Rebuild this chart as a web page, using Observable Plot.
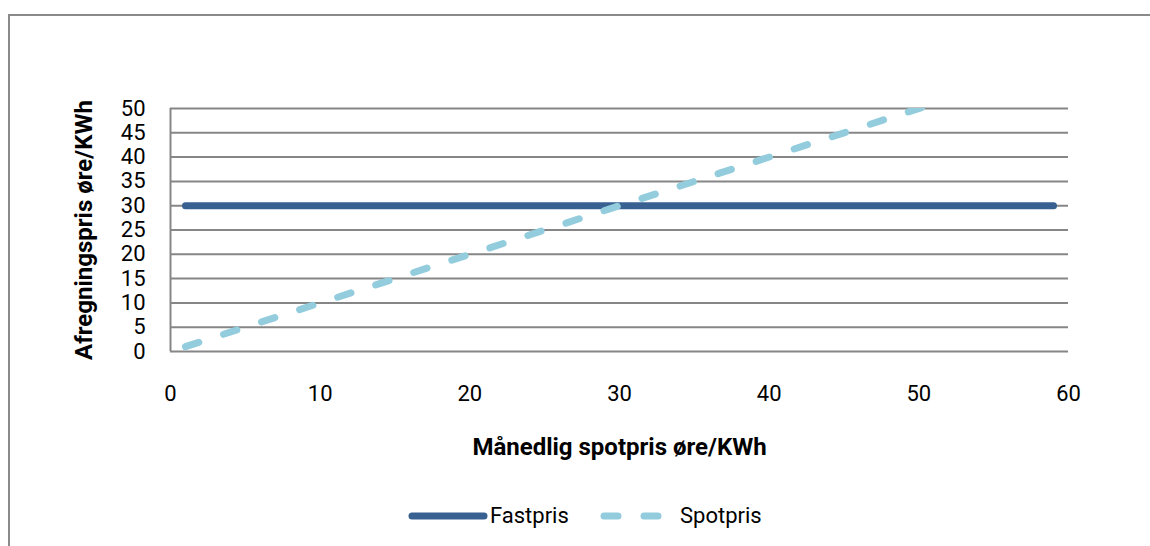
<!DOCTYPE html>
<html>
<head>
<meta charset="utf-8">
<script src="https://cdn.jsdelivr.net/npm/d3@7"></script>
<script src="https://cdn.jsdelivr.net/npm/@observablehq/plot@0.6"></script>
<style>
  html, body { margin: 0; padding: 0; background: #fff; }
  #wrap { position: relative; width: 1150px; height: 546px; overflow: hidden; font-family: Roboto, sans-serif; }
  #frame { position: absolute; left: 8px; top: 14px; width: 1200px; height: 600px; border-left: 2px solid #8a8a8a; border-top: 2px solid #8a8a8a; box-sizing: border-box; }
  #chart { position: absolute; left: 0; top: 0; }
  #legend { position: absolute; left: 0; top: 470px; width: 1150px; height: 76px; }
  .item { position: absolute; top: 34px; font-size: 22px; color: #000; line-height: 24px; display: flex; align-items: center; }
</style>
</head>
<body>
<div id="wrap">
  <div id="frame"></div>
  <div id="chart"></div>
  <div id="legend"></div>
</div>
<script>
const xTicks = [0, 10, 20, 30, 40, 50, 60];
const yTicks = [0, 5, 10, 15, 20, 25, 30, 35, 40, 45, 50];
const fastX = [1, 59];
const fastY = [30, 30];
const spotX = [1, 59];
const spotY = [1, 59];
const seriesNames = ["Fastpris", "Spotpris"];
const seriesColors = ["#386192", "#93cddd"];
const xTitle = "Månedlig spotpris øre/KWh";
const yTitle = "Afregningspris øre/KWh";

const fast = fastX.map((x, i) => ({x, y: fastY[i]}));
const spot = spotX.map((x, i) => ({x, y: spotY[i]}));

const plot = Plot.plot({
  width: 1150,
  height: 470,
  marginLeft: 170,
  marginRight: 82,
  marginTop: 108,
  marginBottom: 119,
  style: {fontFamily: "Roboto, sans-serif", fontSize: "22px", color: "#000", background: "transparent"},
  x: {domain: [0, 60], ticks: xTicks},
  y: {domain: [0, 50], ticks: yTicks},
  marks: [
    Plot.gridY(yTicks, {stroke: "#868686", strokeOpacity: 1, strokeWidth: 2}),
    Plot.ruleX([0], {stroke: "#868686", strokeWidth: 2}),
    Plot.axisX(xTicks, {tickSize: 0, tickPadding: 34, fontSize: 22, label: null}),
    Plot.axisY(yTicks, {tickSize: 0, tickPadding: 25, fontSize: 22, label: null}),
    Plot.line(fast, {x: "x", y: "y", stroke: seriesColors[0], strokeWidth: 7, strokeLinecap: "round"}),
    Plot.line(spot, {x: "x", y: "y", stroke: seriesColors[1], strokeWidth: 7, strokeLinecap: "round", strokeDasharray: "14,26", clip: true}),
    Plot.text([xTitle], {frameAnchor: "bottom", dy: 96, text: d => d, fontWeight: "bold", fontSize: 24, lineAnchor: "middle"}),
    Plot.text([yTitle], {frameAnchor: "left", dx: -86, text: d => d, fontWeight: "bold", fontSize: 24, rotate: -90, textAnchor: "middle", lineAnchor: "middle"})
  ]
});
document.getElementById("chart").appendChild(plot);

const legend = document.getElementById("legend");
const swatches = [
  {left: 408, dash: null},
  {left: 600, dash: "14,26"}
];
seriesNames.forEach((name, i) => {
  const div = document.createElement("div");
  div.className = "item";
  div.style.left = swatches[i].left + "px";
  const w = i === 0 ? 80 : 70;
  const gap = i === 0 ? 2 : 10;
  div.innerHTML = `<svg width="${w}" height="12" style="margin-right:${gap}px"><line x1="4" y1="6" x2="${w - 4}" y2="6" stroke="${seriesColors[i]}" stroke-width="7" stroke-linecap="round" ${i === 1 ? 'stroke-dasharray="14,26"' : ''}/></svg><span>${name}</span>`;
  legend.appendChild(div);
});
</script>
</body>
</html>
